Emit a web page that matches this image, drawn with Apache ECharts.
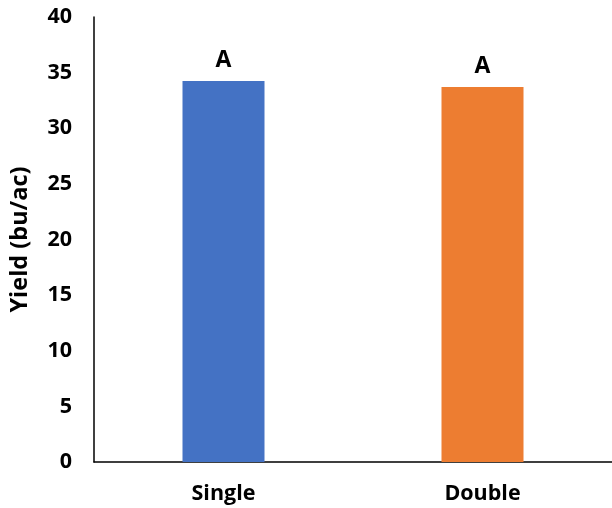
<!DOCTYPE html>
<html><head><meta charset="utf-8">
<script src="https://cdn.jsdelivr.net/npm/echarts@6/dist/echarts.min.js"></script>
<style>html,body{margin:0;padding:0;background:#fff}#c{width:612px;height:508px}</style>
</head><body><div id="c"></div>
<script>
const categories = ['Single', 'Double'];
const yieldValues = [34.25, 33.7];
const letters = ['A', 'A'];
const barColors = ['#4472C4', '#ED7D31'];
const yTicks = { min: 0, max: 40, interval: 5 };

const chart = echarts.init(document.getElementById('c'));
const font = 'Open Sans';
chart.setOption({
  animation: false,
  grid: { left: 93, right: 0, top: 17, bottom: 46 },
  xAxis: {
    type: 'category', data: categories,
    axisLine: { lineStyle: { color: '#000', width: 1.5 } },
    axisTick: { show: false },
    axisLabel: { color: '#000', fontWeight: 'bold', fontSize: 21.5, fontFamily: font, margin: 21 }
  },
  yAxis: {
    type: 'value', min: yTicks.min, max: yTicks.max, interval: yTicks.interval,
    name: 'Yield (bu/ac)', nameLocation: 'middle', nameGap: 62,
    nameTextStyle: { color: '#000', fontWeight: 'bold', fontSize: 23.5, fontFamily: font },
    axisLine: { show: true, lineStyle: { color: '#000', width: 1.5 } },
    axisTick: { show: false },
    splitLine: { show: false },
    axisLabel: { color: '#000', fontWeight: 'bold', fontSize: 21.5, fontFamily: font, margin: 22 }
  },
  series: [{
    type: 'bar', barWidth: 82,
    data: yieldValues.map((v, i) => ({ value: v, itemStyle: { color: barColors[i] } })),
    label: {
      show: true, position: 'top', distance: 9,
      formatter: p => letters[p.dataIndex],
      color: '#000', fontWeight: 'bold', fontSize: 23, fontFamily: font
    }
  }]
});
</script></body></html>
